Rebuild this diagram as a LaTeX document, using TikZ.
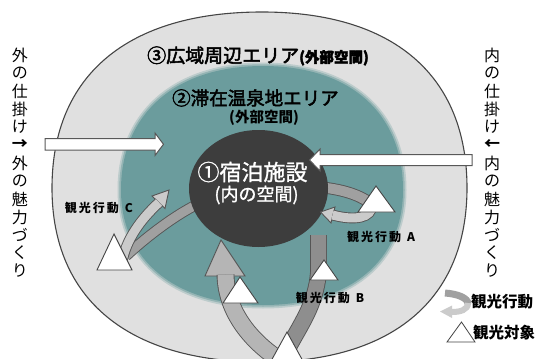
\documentclass[tikz,border=0pt]{standalone}
\usepackage{fontspec}
\setmainfont{Noto Sans CJK JP}
\newfontfamily\jpheavy{Noto Sans CJK JP}[FakeBold=2.5]
\newfontfamily\jpmid{Noto Sans CJK JP}[FakeBold=1.2]
\definecolor{outl}{HTML}{454545}
\definecolor{outerg}{HTML}{E0E0E0}
\definecolor{tealB}{HTML}{6B9C9D}
\definecolor{darkc}{HTML}{3D3D3D}
\definecolor{bandL}{HTML}{B5B5B5}
\definecolor{bandD}{HTML}{8E8E8E}
\definecolor{bandAD}{HTML}{A0A0A0}
\definecolor{bandAL}{HTML}{CBCBCB}
\definecolor{aout}{HTML}{555555}
\tikzset{
  band/.style={draw=aout, line width=0.9pt, double=#1},
  headpoly/.style={fill=#1, draw=aout, line width=0.9pt, line join=miter},
  whitearrow/.style={fill=white, draw=outl!90, line width=1pt, line join=miter},
  tri/.style={fill=white, draw=outl, line width=0.9pt, line join=miter},
  vtxt/.style={font=\fontsize{16}{16}\selectfont, inner sep=0pt},
  smalllab/.style={font=\fontsize{12}{12}\selectfont\bfseries, inner sep=0pt},
  leglab/.style={font=\fontsize{15.5}{15.5}\selectfont\bfseries, inner sep=0pt},
}
\begin{document}
\begin{tikzpicture}[x=1pt,y=-1pt]
\useasboundingbox (0,0) rectangle (536,359);
\clip (0,0) rectangle (536,359);
\fill[white] (0,0) rectangle (536,359);
% outer region
\path[draw=outl, fill=outerg, line width=1.1pt]
  (262,12) .. controls (393,12) and (467,75) .. (467,188)
  .. controls (467,299) and (393,362) .. (262,362)
  .. controls (128,362) and (52,299) .. (52,188)
  .. controls (52,75) and (128,12) .. (262,12) -- cycle;
% teal region with soft edge
\fill[tealB, preaction={draw=tealB!30!outerg, line width=7pt}, preaction={draw=tealB!65!outerg, line width=3.5pt}]
  (263,66) .. controls (350,66) and (403,113) .. (403,190)
  .. controls (403,261) and (350,305) .. (263,305)
  .. controls (176,305) and (121,261) .. (121,190)
  .. controls (121,113) and (176,66) .. (263,66) -- cycle;
% dark bands starting under the circle
\draw[band=bandAD, double distance=10pt] (318,187) .. controls (340,189) and (358,194) .. (370,203);
\draw[band=bandAD, double distance=9pt] (198,204) .. controls (175,215) and (145,238) .. (126,256);
% central circle
\fill[darkc] (258.5,188.5) ellipse [x radius=69.5pt, y radius=58.5pt];
% big upward arrow
\draw[headpoly=bandL] (205,276) -- (221,240) -- (245,276) -- cycle;
\draw[band=bandL, double distance=16pt] (283,362) .. controls (252,343) and (226,312) .. (225.5,274.5);
% band B
\draw[band=bandD, double distance=15pt] (286,352) .. controls (300,325) and (316,305) .. (318.5,272) -- (318.5,235);
% light band A
\draw[headpoly=bandAL] (335,207) -- (320.5,212) -- (331,223) -- cycle;
\draw[band=bandAL, double distance=9pt] (372,205) .. controls (372,218) and (355,221) .. (332.5,215);
% light band C
\draw[headpoly=bandAL] (152,196) -- (169,190) -- (165,208.5) -- cycle;
\draw[band=bandAL, double distance=9pt] (122,262) .. controls (126,240) and (140,220) .. (159,202.5);
% white arrows
\draw[whitearrow] (45,138.5) -- (155,138.5) -- (155,133) -- (163.5,144.3) -- (155,155.5) -- (155,150) -- (45,150) -- cycle;
\draw[whitearrow] (472,154.5) -- (320,154.5) -- (320,149) -- (309.5,160) -- (320,171) -- (320,165.5) -- (472,165.5) -- cycle;
% triangles (sights)
\draw[tri] (97,270) -- (114,234) -- (132,270) -- cycle;
\draw[tri] (358,212) -- (376,186) -- (395,212) -- cycle;
\draw[tri] (310,280) -- (324,260) -- (338,280) -- cycle;
\draw[tri] (223,303) -- (240,277) -- (258,303) -- cycle;
\draw[tri] (265,372) -- (287,332) -- (309,372) -- cycle;
% texts
\node[anchor=base west, inner sep=0pt] (t3) at (147,62.5) {\jpheavy\fontsize{19}{19}\selectfont ③広域周辺エリア\fontsize{14.5}{14.5}\selectfont\bfseries(外部空間)};
\node[anchor=base west, inner sep=0pt] (t2) at (172,105) {\jpheavy\fontsize{18.5}{18.5}\selectfont ②滞在温泉地エリア};
\node[inner sep=0pt, font=\fontsize{14.5}{14.5}\selectfont\bfseries] (t2b) at (264,118) {(外部空間)};
\node[inner sep=0pt, text=white, font=\jpmid\fontsize{22}{22}\selectfont] (t1) at (252.5,172) {①宿泊施設};
\node[inner sep=0pt, text=white, font=\jpmid\fontsize{18}{18}\selectfont] (t1b) at (256.5,195) {(内の空間)};
\node[smalllab] (lc) at (99,208) {観\kern2pt 光\kern2pt 行\kern2pt 動\kern6pt C};
\node[smalllab] (la) at (381,237) {観\kern2pt 光\kern2pt 行\kern2pt 動\kern6pt A};
\node[smalllab] (lb) at (330,298) {観\kern2pt 光\kern2pt 行\kern2pt 動\kern6pt B};
% legend
\draw[bandAD, line width=7pt] (445,293) .. controls (458,294) and (468,298) .. (468,304);
\draw[bandAL, line width=6pt] (468,303) .. controls (468,310) and (460,312) .. (452,312);
\fill[bandAL] (452,305.5) -- (440,311.5) -- (452,318) -- cycle;
\node[leglab] (lg1) at (502,302) {観光行動};
\draw[tri, line width=0.8pt] (447,342) -- (461.5,322) -- (475,342) -- cycle;
\node[leglab] (lg2) at (504,333) {観光対象};
% vertical texts
\foreach \ch [count=\i] in {外,の,仕,掛,け,{\bfseries →},外,の,魅,力,づ,く,り}
  \node[vtxt] (lv\i) at (20,{55+18*(\i-1)}) {\ch};
\foreach \ch [count=\i] in {内,の,仕,掛,け,{\bfseries ←},内,の,魅,力,づ,く,り}
  \node[vtxt] (rv\i) at (492,{55+18*(\i-1)}) {\ch};
\end{tikzpicture}
\end{document}
